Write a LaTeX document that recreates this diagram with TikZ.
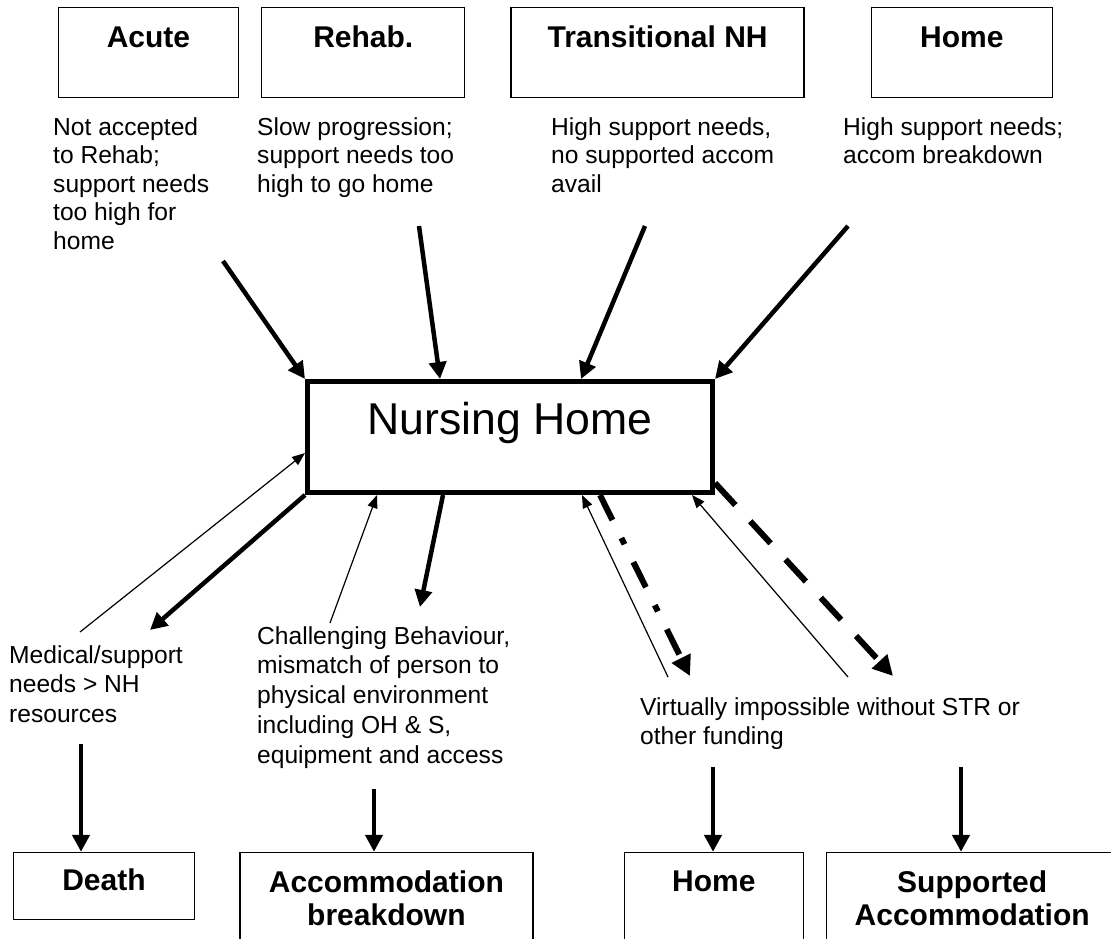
\documentclass[tikz,border=0pt]{standalone}
\usepackage{fontspec}
\setmainfont{Liberation Sans}
\usetikzlibrary{positioning,arrows.meta}

\begin{document}
\begin{tikzpicture}[x=1pt, y=-1pt,
	srcbox/.style={draw, line width=1.3pt, inner sep=0pt, minimum height=90pt, text height=21.5pt, text depth=32pt, font=\fontsize{30}{34}\selectfont\bfseries},
	endbox/.style={draw, line width=1.4pt, inner sep=0pt, align=center, font=\fontsize{30}{33}\selectfont\bfseries},
	note/.style={inner sep=0pt, align=left, anchor=north west, font=\fontsize{24.6}{28.5}\selectfont},
	lownote/.style={note, font=\fontsize{24.6}{29.8}\selectfont},
	heavy/.style={line width=4.5pt, -{Triangle[length=17pt,width=17pt]}},
	light/.style={line width=1.2pt, -{Triangle[length=13pt,width=10pt]}},
	dashdot/.style={line width=6pt, dash pattern=on 28pt off 20pt on 7pt off 20pt, -{Triangle[length=20pt,width=20pt]}},
	dashlong/.style={line width=6pt, dash pattern=on 30pt off 22pt, -{Triangle[length=20pt,width=20pt]}}]
		\useasboundingbox (0,0) rectangle (1111,938);
		\clip (0,0) rectangle (1111,938);

		% where people come from
		\node[srcbox, minimum width=180pt] 					(acute) 	at (148.5,52.5) {Acute};
		\node[srcbox, minimum width=203pt, right=22pt of acute] 	(rehab) 	{Rehab.};
		\node[srcbox, minimum width=293pt, right=45pt of rehab] 	(trans) 	{Transitional NH};
		\node[srcbox, minimum width=181pt, right=66pt of trans] 	(homeA) 	{Home};

		\node[note] (acuteN) 	at (53,117) 	{Not accepted\\to Rehab;\\support needs\\too high for\\home};
		\node[note] (rehabN) 	at (257,117) 	{Slow progression;\\support needs too\\high to go home};
		\node[note] (transN) 	at (551,117) 	{High support needs,\\no supported accom\\avail};
		\node[note] (homeN) 	at (843,117) 	{High support needs;\\accom breakdown};

		\node[draw, line width=5pt, minimum width=405pt, minimum height=111pt, inner sep=0pt, text height=32pt, text depth=38pt, font=\fontsize{44.6}{50}\selectfont] (nh) at (510,437) {Nursing Home};

		\coordinate (acuteS) at (223,261);
		\coordinate (rehabS) at (419,226);
		\coordinate (transS) at (645,226);
		\coordinate (homeS) at (848,226);

		\draw[heavy] (acuteS) -- (nh.north west);
		\draw[heavy] (rehabS) -- ([xshift=135pt]nh.north west);
		\draw[heavy] (transS) -- ([xshift=276pt]nh.north west);
		\draw[heavy] (homeS) -- (nh.north east);

		% where people go
		\coordinate (medS) at (80,632);
		\coordinate (deathT) at (150,630);
		\coordinate (chalS) at (330,623);
		\coordinate (brkT) at (420,607);
		\coordinate (homeBackS) at (668,677);
		\coordinate (homeT) at (690,676);
		\coordinate (supBackS) at (848,677);
		\coordinate (supT) at (893,676);

		\draw[light] (medS) -- ([yshift=-16pt]nh.west);
		\draw[heavy] (nh.south west) -- (deathT);
		\draw[light] (chalS) -- ([xshift=72pt]nh.south west);
		\draw[heavy] ([xshift=138pt]nh.south west) -- (brkT);
		\draw[light] (homeBackS) -- ([xshift=277pt]nh.south west);
		\draw[dashdot] ([xshift=295pt]nh.south west) -- (homeT);
		\draw[light] (supBackS) -- ([xshift=-23pt]nh.south east);
		\draw[dashlong] ([yshift=12pt]nh.south east) -- (supT);

		\node[lownote] (medN) 	at (9,645) 	{Medical/support\\needs > NH\\resources};
		\node[lownote] (chalN) 	at (257,626) 	{Challenging Behaviour,\\mismatch of person to\\physical environment\\including OH \& S,\\equipment and access};
		\node[lownote] (fundN) 	at (640,697) 	{Virtually impossible without STR or\\other funding};

		\node[endbox, minimum width=181pt, minimum height=67pt, text depth=13.5pt] (death) at (104,886) {Death};
		\node[endbox, minimum width=293pt, minimum height=118pt, right=44pt of death.north east, anchor=north west] (accom) {Accommodation\\breakdown\rule[-27pt]{0pt}{0pt}};
		\node[endbox, minimum width=179pt, minimum height=118pt, text depth=60pt, right=90pt of accom.north east, anchor=north west] (homeB) {Home};
		\node[endbox, minimum width=291pt, minimum height=118pt, right=22pt of homeB.north east, anchor=north west] (supp) {Supported\\Accommodation\rule[-27pt]{0pt}{0pt}};

		\coordinate (deathS) at (81,744);
		\coordinate (accomS) at (374,789);
		\coordinate (homeBS) at (713,767);
		\coordinate (suppS) at (961,767);

		\draw[heavy] (deathS) -- (deathS |- death.north);
		\draw[heavy] (accomS) -- (accomS |- accom.north);
		\draw[heavy] (homeBS) -- (homeBS |- homeB.north);
		\draw[heavy] (suppS) -- (suppS |- supp.north);
\end{tikzpicture}
\end{document}
